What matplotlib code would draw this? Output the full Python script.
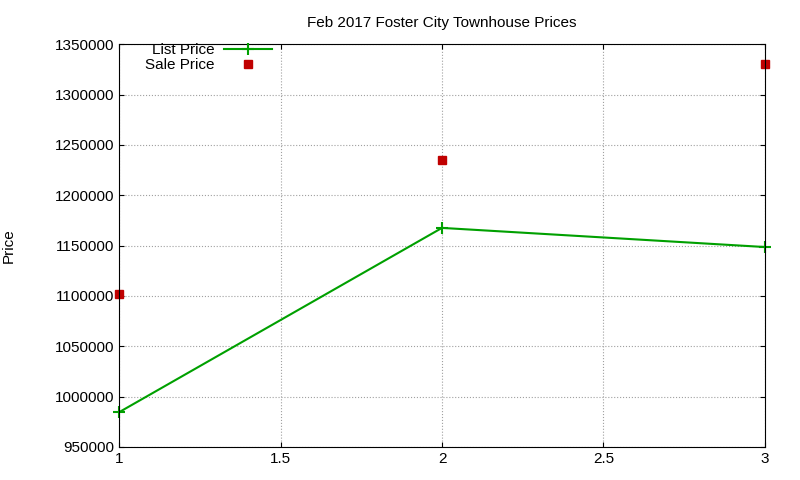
import matplotlib
matplotlib.use("Agg")
import matplotlib.pyplot as plt

plt.rcParams['font.family'] = ['Liberation Sans', 'DejaVu Sans']
x = [1, 2, 3]
list_price = [984500, 1167500, 1148500]
sale_price = [1102000, 1235000, 1330000]
yticks = [950000, 1000000, 1050000, 1100000, 1150000, 1200000, 1250000, 1300000, 1350000]
xticks = [1, 1.5, 2, 2.5, 3]

fig = plt.figure(figsize=(8, 4.8), dpi=100)
ax = fig.add_axes([0.149, 0.069, 0.807, 0.839])
ax.plot(x, list_price, color='#00a000', marker='+', markersize=8, mew=1.5, lw=1.5, label='List Price', clip_on=False)
ax.plot(x, sale_price, color='#c00000', marker='s', markersize=6, lw=0, label='Sale Price', clip_on=False)
ax.set_xlim(1, 3)
ax.set_ylim(950000, 1350000)
ax.set_xticks(xticks)
ax.set_xticklabels(['1', '1.5', '2', '2.5', '3'])
ax.set_yticks(yticks)
ax.set_yticklabels([str(v) for v in yticks])
ax.tick_params(direction='in', top=True, right=True, labelsize=11)
ax.grid(True, color='#a0a0a0', linestyle=':', lw=0.8)
ax.set_ylabel('Price', fontsize=11, labelpad=28)
ax.set_title('Feb 2017 Foster City Townhouse Prices', fontsize=11, pad=12)
ax.legend(loc='upper left', bbox_to_anchor=(0.035, 1.01), markerfirst=False, frameon=False,
          fontsize=11, handlelength=3.2, borderaxespad=0.0, labelspacing=0.05, borderpad=0.2,
          handletextpad=0.6)
fig.savefig('out.png')
